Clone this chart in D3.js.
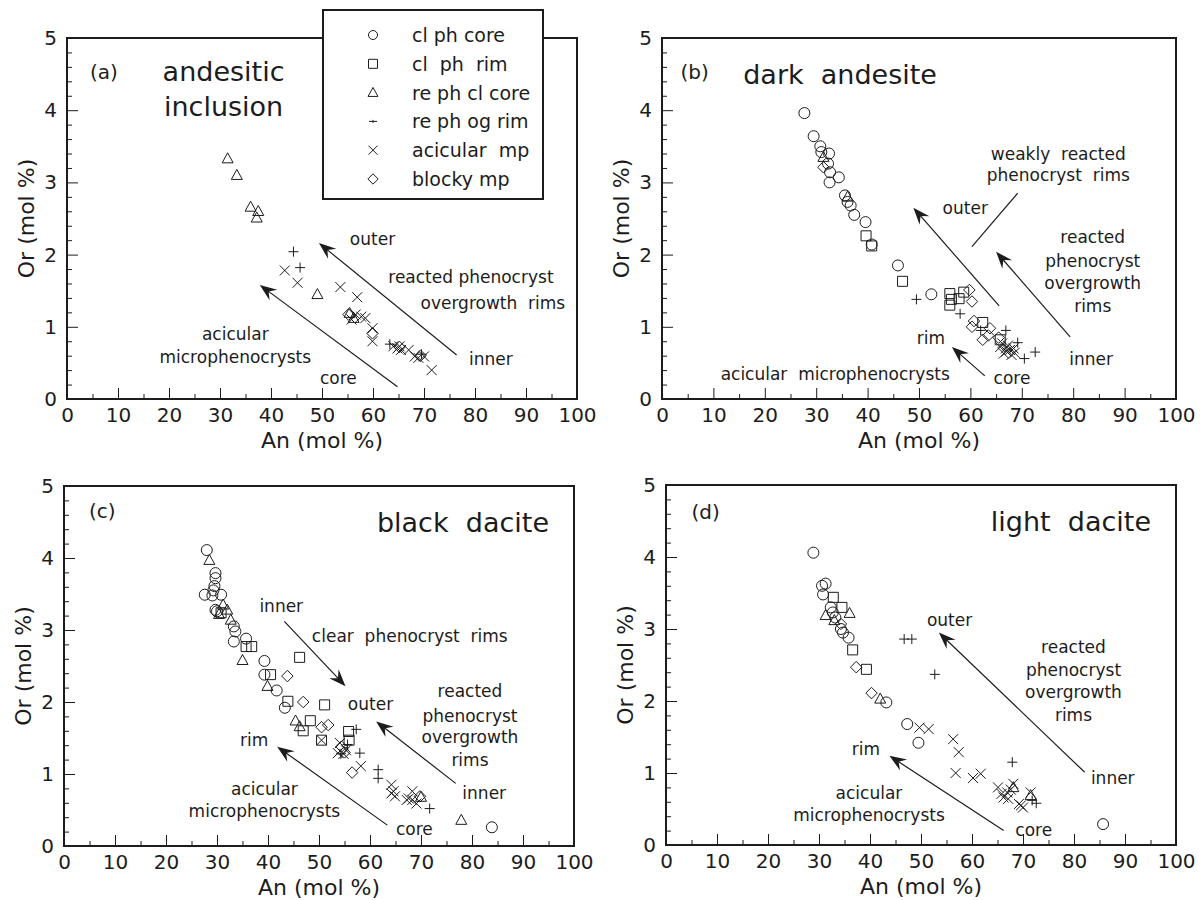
<!DOCTYPE html>
<html>
<head>
<meta charset="utf-8">
<script src="https://d3js.org/d3.v7.min.js"></script>
<style>
  body { margin: 0; background: #fff; }
  text { font-family: "DejaVu Sans", sans-serif; fill: #1c1c1c; white-space: pre; }
</style>
</head>
<body>
<svg id="chart" width="1202" height="900"></svg>
<script>

// ---- shared axes / legend ----
var xTicks = [0, 10, 20, 30, 40, 50, 60, 70, 80, 90, 100];
var yTicks = [0, 1, 2, 3, 4, 5];
var legendLabels = ["cl ph core", "cl  ph  rim", "re ph cl core", "re ph og rim", "acicular  mp", "blocky mp"];
var symbolTypes = ["circle", "square", "triangle", "plus", "cross", "diamond"];

// ---- (a) andesitic inclusion : [An, Or] ----
var aClCore = [];
var aClRim = [];
var aReCore = [[31.5,3.33],[33.3,3.10],[36.0,2.66],[37.5,2.60],[37.2,2.51],[49.1,1.45],[55.4,1.19],[56.2,1.12]];
var aReRim = [[44.4,2.04],[45.7,1.82],[63.3,0.76],[69.5,0.62]];
var aAcicular = [[42.7,1.78],[45.2,1.61],[53.6,1.55],[56.9,1.41],[55.8,1.10],[56.6,1.17],[57.7,1.14],[58.5,1.12],
  [59.9,0.98],[59.9,0.80],[64.0,0.73],[64.8,0.70],[65.2,0.73],[65.5,0.68],[67.0,0.68],[68.2,0.59],[70.0,0.59],[71.5,0.40],[68.9,0.57]];
var aBlocky = [[55.2,1.17],[59.9,0.91],[69.3,0.60],[65.2,0.72]];

// ---- (b) dark andesite ----
var bClCore = [[27.7,3.96],[29.5,3.64],[30.8,3.50],[31.0,3.42],[32.5,3.40],[32.3,3.26],[32.7,3.14],[34.4,3.07],[32.6,3.00],
  [35.6,2.82],[36.1,2.73],[36.7,2.68],[37.4,2.55],[39.6,2.45],[40.8,2.14],[45.9,1.85],[52.4,1.45]];
var bClRim = [[39.7,2.26],[40.8,2.12],[46.8,1.63],[56.0,1.46],[56.0,1.30],[57.8,1.39],[58.7,1.48],[62.4,1.06],[65.8,0.82],[56.3,1.38]];
var bReCore = [[31.4,3.35],[36.1,2.80]];
var bReRim = [[49.5,1.38],[58.0,1.18],[66.9,0.95],[69.2,0.78],[70.5,0.56],[72.6,0.65],[62.0,0.95]];
var bAcicular = [[66.2,0.77],[66.9,0.70],[67.7,0.68],[68.4,0.70],[66.5,0.63],[67.3,0.74],[68.0,0.61],[65.8,0.72],[67.0,0.66],[68.6,0.64]];
var bBlocky = [[31.4,3.21],[59.8,1.51],[60.3,1.35],[60.7,1.08],[60.3,1.00],[63.8,0.98],[62.4,0.82],[63.5,0.88],[65.5,0.85]];

// ---- (c) black dacite ----
var cClCore = [[28.0,4.11],[27.6,3.49],[29.7,3.79],[29.7,3.72],[29.5,3.61],[29.1,3.48],[30.8,3.49],[29.7,3.28],[30.0,3.26],
  [33.3,3.05],[33.6,2.98],[33.3,2.84],[35.7,2.88],[39.3,2.57],[39.3,2.38],[41.7,2.16],[43.3,1.92],[83.9,0.26],[29.3,3.55]];
var cClRim = [[30.8,3.24],[35.7,2.77],[36.8,2.77],[40.5,2.38],[43.9,2.01],[46.2,2.62],[46.9,1.60],[48.3,1.74],[51.1,1.96],
  [50.5,1.47],[55.8,1.59],[55.9,1.47]];
var cReCore = [[28.5,3.97],[31.2,3.35],[32.7,3.14],[35.0,2.58],[39.9,2.22],[45.4,1.74],[46.2,1.66],[77.9,0.36],[70.0,0.68],[30.4,3.22],[32.0,3.28]];
var cReRim = [[57.3,1.62],[58.0,1.29],[61.6,1.06],[61.6,0.94],[71.7,0.52],[55.6,1.41],[54.3,1.28]];
var cAcicular = [[50.5,1.47],[54.1,1.43],[53.7,1.29],[54.8,1.28],[58.2,1.11],[64.2,0.85],[64.6,0.76],[64.9,0.69],[67.6,0.66],
  [68.3,0.76],[68.3,0.64],[69.1,0.59],[67.2,0.64],[64.2,0.73],[55.3,1.33]];
var cBlocky = [[43.8,2.36],[46.9,2.00],[51.8,1.68],[50.5,1.65],[54.4,1.38],[56.5,1.02],[69.8,0.69],[55.0,1.30]];

// ---- (d) light dacite ----
var dClCore = [[28.9,4.06],[30.6,3.60],[31.3,3.63],[30.8,3.48],[32.3,3.30],[32.7,3.23],[34.3,3.00],[34.7,2.95],[35.8,2.88],
  [43.2,1.98],[47.3,1.68],[49.5,1.42],[85.7,0.29],[33.2,3.16]];
var dClRim = [[32.8,3.44],[34.5,3.30],[36.6,2.71],[39.3,2.44]];
var dReCore = [[31.3,3.19],[36.0,3.22],[42.0,2.03],[68.1,0.80],[71.5,0.69],[33.0,3.12]];
var dReRim = [[48.2,2.86],[46.7,2.86],[52.7,2.37],[67.9,1.15],[72.6,0.58],[71.8,0.62]];
var dAcicular = [[49.7,1.63],[51.5,1.61],[56.3,1.47],[57.4,1.29],[56.8,1.00],[60.2,0.93],[61.7,0.99],[65.1,0.80],[65.8,0.71],
  [66.9,0.73],[68.1,0.85],[67.1,0.64],[69.2,0.57],[70.0,0.52],[71.5,0.73],[67.6,0.77],[66.2,0.66],[69.6,0.55]];
var dBlocky = [[37.3,2.47],[40.3,2.11],[34.3,3.07]];

// ---- annotations (data coords): [x, y, text, anchor, size] ; arrows [x1,y1,x2,y2,head]
var panels = [
  { left: 67, right: 577, bottom: 399, top: 38,
    series: [aClCore, aClRim, aReCore, aReRim, aAcicular, aBlocky],
    notes: [[4.5,4.53,"(a)","start",20],[30.7,4.53,"andesitic","middle",27],[30.7,4.05,"inclusion","middle",27],
      [59.9,2.21,"outer"],[79.2,1.69,"reacted phenocryst"],[83.5,1.33,"overgrowth  rims"],[83.1,0.55,"inner"],
      [33.0,0.90,"acicular"],[33.0,0.58,"microphenocrysts"],[53.2,0.29,"core"]],
    arrows: [[76.4,0.61,49.4,2.16,1],[64.8,0.17,37.8,1.58,1]] },
  { left: 662, right: 1176, bottom: 399, top: 38,
    series: [bClCore, bClRim, bReCore, bReRim, bAcicular, bBlocky],
    notes: [[3.6,4.53,"(b)","start",20],[15.8,4.49,"dark  andesite","start",27],
      [77.1,3.40,"weakly  reacted"],[77.1,3.10,"phenocryst  rims"],[59.0,2.65,"outer"],
      [83.8,2.24,"reacted"],[83.8,1.91,"phenocryst"],[83.8,1.60,"overgrowth"],[83.8,1.29,"rims"],
      [83.5,0.56,"inner"],[52.3,0.84,"rim"],[68.1,0.29,"core"],[33.7,0.35,"acicular  microphenocrysts"]],
    arrows: [[69.2,2.85,60.3,2.11,0],[65.6,1.29,48.9,2.65,1],[79.4,0.86,65.0,2.04,1],[62.8,0.32,56.4,0.72,1]] },
  { left: 64, right: 574, bottom: 846, top: 486,
    series: [cClCore, cClRim, cReCore, cReRim, cAcicular, cBlocky],
    notes: [[4.9,4.65,"(c)","start",20],[95.1,4.49,"black  dacite","end",27],
      [42.6,3.33,"inner"],[67.8,2.91,"clear  phenocryst  rims"],[60.1,1.97,"outer"],
      [79.6,2.15,"reacted"],[79.6,1.81,"phenocryst"],[79.6,1.51,"overgrowth"],[79.6,1.19,"rims"],
      [82.4,0.74,"inner"],[37.3,1.47,"rim"],[39.3,0.79,"acicular"],[39.3,0.49,"microphenocrysts"],[68.7,0.24,"core"]],
    arrows: [[43.2,3.12,55.2,2.22,1],[76.8,0.87,61.2,1.73,1],[63.4,0.29,41.8,1.38,1]] },
  { left: 666, right: 1176, bottom: 845, top: 485,
    series: [dClCore, dClRim, dReCore, dReRim, dAcicular, dBlocky],
    notes: [[5.0,4.62,"(d)","start",20],[95.1,4.50,"light  dacite","end",27],
      [55.6,3.13,"outer"],[79.9,2.75,"reacted"],[79.9,2.43,"phenocryst"],[79.9,2.13,"overgrowth"],[79.9,1.81,"rims"],
      [87.6,0.93,"inner"],[39.2,1.33,"rim"],[39.8,0.72,"acicular"],[39.8,0.41,"microphenocrysts"],[72.1,0.21,"core"]],
    arrows: [[82.1,1.01,53.5,2.95,1],[66.2,0.20,43.8,1.24,1]] }
];

var ink = "#1c1c1c";

function symbolPath(type, s) {
  switch (type) {
    case "square": return "M" + (-s) + "," + (-s) + "h" + 2*s + "v" + 2*s + "h" + (-2*s) + "z";
    case "triangle": return "M0," + (-1.15*s) + "L" + (1.1*s) + "," + (0.85*s) + "L" + (-1.1*s) + "," + (0.85*s) + "Z";
    case "plus": return "M" + (-s) + ",0H" + s + "M0," + (-s) + "V" + s;
    case "cross": return "M" + (-s) + "," + (-s) + "L" + s + "," + s + "M" + (-s) + "," + s + "L" + s + "," + (-s);
    case "diamond": return "M0," + (-1.15*s) + "L" + (1.15*s) + ",0L0," + (1.15*s) + "L" + (-1.15*s) + ",0Z";
  }
}

function drawSymbol(g, type, cx, cy, s) {
  if (type === "circle") {
    g.append("circle").attr("cx", cx).attr("cy", cy).attr("r", s)
      .attr("fill", "none").attr("stroke", ink).attr("stroke-width", 1);
  } else {
    g.append("path").attr("transform", "translate(" + cx + "," + cy + ")")
      .attr("d", symbolPath(type, s))
      .attr("fill", "none").attr("stroke", ink).attr("stroke-width", 1);
  }
}

var svg = d3.select("#chart");

panels.forEach(function(p) {
  var x = d3.scaleLinear().domain([0, 100]).range([p.left, p.right]);
  var y = d3.scaleLinear().domain([0, 5]).range([p.bottom, p.top]);
  var g = svg.append("g");

  // minor ticks
  g.append("g").attr("transform", "translate(0," + p.bottom + ")")
    .call(d3.axisBottom(x).tickValues(d3.range(5, 100, 10)).tickSize(-5).tickFormat(""));
  g.append("g").attr("transform", "translate(" + p.left + ",0)")
    .call(d3.axisLeft(y).tickValues(d3.range(0.2, 5, 0.2).filter(function(v){ return Math.abs(v - Math.round(v)) > 0.01; }))
      .tickSize(-5).tickFormat(""));
  // major ticks + labels
  g.append("g").attr("transform", "translate(0," + p.bottom + ")")
    .call(d3.axisBottom(x).tickValues(xTicks).tickSize(-11).tickPadding(9).tickFormat(d3.format("d")))
    .attr("font-size", 20).attr("font-family", "DejaVu Sans");
  g.append("g").attr("transform", "translate(" + p.left + ",0)")
    .call(d3.axisLeft(y).tickValues(yTicks).tickSize(-11).tickPadding(10).tickFormat(d3.format("d")))
    .attr("font-size", 20).attr("font-family", "DejaVu Sans");
  g.selectAll(".domain").remove();
  g.selectAll(".tick line").attr("stroke", ink);
  g.selectAll(".tick text").style("fill", ink);

  // frame
  g.append("rect").attr("x", p.left).attr("y", p.top)
    .attr("width", p.right - p.left).attr("height", p.bottom - p.top)
    .attr("fill", "none").attr("stroke", ink).attr("stroke-width", 2);

  // axis titles
  g.append("text").attr("x", (p.left + p.right) / 2).attr("y", p.bottom + 49)
    .attr("text-anchor", "middle").style("font-size", "22px").text("An (mol %)");
  g.append("text").attr("transform", "translate(" + (p.left - 41) + "," + ((p.top + p.bottom) / 2) + ") rotate(-90)")
    .attr("text-anchor", "middle").attr("dominant-baseline", "central").style("font-size", "22px").text("Or (mol %)");

  // points
  var pts = g.append("g");
  p.series.forEach(function(arr, i) {
    arr.forEach(function(d) {
      drawSymbol(pts, symbolTypes[i], x(d[0]), y(d[1]), i === 0 ? 5.5 : 5);
    });
  });

  // arrows
  p.arrows.forEach(function(a) {
    var x1 = x(a[0]), y1 = y(a[1]), x2 = x(a[2]), y2 = y(a[3]);
    var ang = Math.atan2(y2 - y1, x2 - x1);
    var back = a[4] ? 10 : 0;
    g.append("line").attr("x1", x1).attr("y1", y1)
      .attr("x2", x2 - back * Math.cos(ang)).attr("y2", y2 - back * Math.sin(ang))
      .attr("stroke", ink).attr("stroke-width", 1.2);
    if (a[4]) {
      g.append("path").attr("d", "M0,0L-17,-6.5L-11,0L-17,6.5Z")
        .attr("transform", "translate(" + x2 + "," + y2 + ") rotate(" + (ang * 180 / Math.PI) + ")")
        .attr("fill", ink);
    }
  });

  // notes
  p.notes.forEach(function(n) {
    g.append("text").attr("x", x(n[0])).attr("y", y(n[1]))
      .attr("text-anchor", n[3] || "middle").attr("dominant-baseline", "central")
      .style("font-size", (n[4] || 17) + "px").text(n[2]);
  });
});

// legend (drawn over panel a frame)
var lg = svg.append("g");
lg.append("rect").attr("x", 323).attr("y", 10).attr("width", 220).attr("height", 189)
  .attr("fill", "#fff").attr("stroke", ink).attr("stroke-width", 2);
legendLabels.forEach(function(lab, i) {
  var cy = 35 + i * 28.8;
  if (symbolTypes[i] === "plus") {
    lg.append("path").attr("d", "M369," + cy + "H377M373," + (cy - 1.5) + "V" + (cy + 1.5))
      .attr("stroke", ink).attr("fill", "none");
  } else {
    drawSymbol(lg, symbolTypes[i], 373, cy, 4.5);
  }
  lg.append("text").attr("x", 412).attr("y", cy).attr("dominant-baseline", "central")
    .style("font-size", "19px").text(lab);
});

</script>
</body>
</html>
